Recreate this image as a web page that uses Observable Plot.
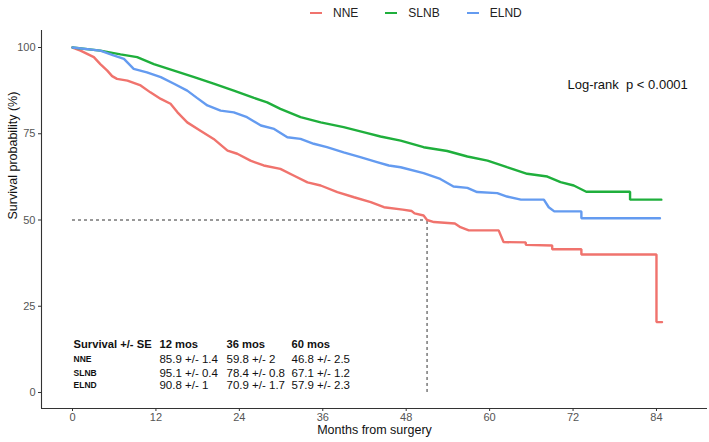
<!DOCTYPE html>
<html>
<head>
<meta charset="utf-8">
<script src="https://cdn.jsdelivr.net/npm/d3@7"></script>
<script src="https://cdn.jsdelivr.net/npm/@observablehq/plot@0.6"></script>
<style>
  html, body { margin: 0; padding: 0; background: #fff; }
  body { width: 709px; font-family: "Liberation Sans", Arial, sans-serif; }
  #legend { position: relative; height: 28px; }
  #legend .items { position: absolute; left: 310px; top: 0; height: 26px; display: flex; align-items: center; font-size: 12px; color: #222; }
  #legend .sw { width: 12px; height: 2px; margin-right: 11px; }
  #legend .lab { margin-right: 27px; }
  #chart svg { display: block; }
</style>
</head>
<body>
<div id="legend"><div class="items"></div></div>
<div id="chart"></div>
<script>
// ---- data ----
const groups = ["NNE", "SLNB", "ELND"];
const colors = ["#F0736D", "#1FAF3C", "#649BF0"];

const nneMonths = [0, 1.15, 3.07, 4.0, 5.0, 5.7, 6.4, 7.9, 9.8, 11.2, 12.7, 14.1, 15.1, 16.5, 18.4, 20.3, 22.3, 23.7, 25.6, 27.5, 29.9, 31.8, 33.8, 35.7, 38.1, 40.5, 42.9, 44.8, 47.5, 48.8, 49.2, 50.5, 51.0, 52.0, 55.0, 55.8, 57.0, 61.3, 62.0, 65.2, 65.2, 69.0, 69.0, 73.2, 73.2, 84.0, 84.0, 84.8];
const nneSurv   = [100, 99.1, 97.2, 95.2, 93.3, 91.7, 90.9, 90.4, 89.0, 87.0, 85.1, 83.7, 81.2, 78.3, 75.9, 73.5, 70.1, 69.2, 67.2, 65.8, 64.8, 62.9, 60.9, 60.0, 58.1, 56.6, 55.2, 53.7, 53.0, 52.6, 51.9, 51.3, 50.0, 49.4, 49.0, 47.9, 47.0, 47.0, 43.6, 43.5, 42.8, 42.6, 41.5, 41.5, 40.0, 40.0, 20.4, 20.4];

const slnbMonths = [0, 4.0, 6.9, 9.3, 11.7, 14.6, 17.5, 20.3, 23.2, 26.1, 28.0, 29.9, 32.8, 35.7, 39.0, 42.4, 44.3, 47.2, 50.5, 53.9, 56.8, 59.7, 62.5, 65.4, 68.3, 70.2, 72.1, 73.9, 80.2, 80.2, 84.7];
const slnbSurv   = [100, 99.1, 98.0, 97.2, 95.2, 93.3, 91.4, 89.5, 87.5, 85.4, 84.1, 82.2, 79.8, 78.3, 76.9, 75.2, 74.2, 73.0, 71.1, 70.0, 68.4, 67.2, 65.3, 63.4, 62.6, 61.0, 60.0, 58.2, 58.2, 55.9, 55.9];

const elndMonths = [0, 4.0, 5.9, 7.4, 8.8, 10.7, 12.7, 14.6, 16.5, 17.9, 19.4, 21.3, 23.2, 25.1, 27.1, 29.0, 30.9, 32.8, 34.7, 36.6, 39.0, 41.4, 43.8, 45.5, 47.2, 50.5, 52.9, 54.8, 56.8, 58.2, 61.1, 62.5, 64.5, 67.8, 68.5, 69.3, 73.2, 73.2, 84.5];
const elndSurv   = [100, 99.1, 97.7, 96.7, 93.8, 92.8, 91.4, 89.5, 87.5, 85.4, 83.2, 81.7, 81.2, 79.8, 77.4, 76.4, 74.0, 73.5, 72.1, 71.1, 69.6, 68.2, 66.8, 65.8, 65.3, 63.6, 61.9, 59.7, 59.3, 58.1, 57.8, 56.8, 55.9, 55.9, 53.7, 52.5, 52.5, 50.5, 50.5];

const xTicks = [0, 12, 24, 36, 48, 60, 72, 84];
const yTicks = [0, 25, 50, 75, 100];

const tableHeader = ["Survival +/- SE", "12 mos", "36 mos", "60 mos"];
const nneRow  = ["85.9 +/- 1.4", "59.8 +/- 2", "46.8 +/- 2.5"];
const slnbRow = ["95.1 +/- 0.4", "78.4 +/- 0.8", "67.1 +/- 1.2"];
const elndRow = ["90.8 +/- 1", "70.9 +/- 1.7", "57.9 +/- 2.3"];

const logRankText = "Log-rank \u00A0p < 0.0001";
const xTitle = "Months from surgery";
const yTitle = "Survival probability (%)";

// ---- build tables ----
const series = [[nneMonths, nneSurv], [slnbMonths, slnbSurv], [elndMonths, elndSurv]];
const curves = series.flatMap(([ms, ss], gi) => ms.map((m, i) => ({group: groups[gi], month: m, surv: ss[i]})));
const nne = curves.filter(d => d.group === "NNE");
const median = nne.find(d => d.surv <= 50).month;

const rowsText = [nneRow, slnbRow, elndRow];

// layout (data units)
const xDomain = [-4.46, 91.34];
const yDomain = [-4.64, 104.93];
const colX = [0.15, 12.5, 22.15, 31.5];
const headY = 13.9;
const rowY = [9.7, 5.7, 2.0];

const cells = rowsText.flatMap((row, r) => row.map((t, c) => ({t, x: colX[c + 1], y: rowY[r]})));

// legend
const items = document.querySelector("#legend .items");
groups.forEach((g, i) => {
  const sw = document.createElement("span"); sw.className = "sw"; sw.style.background = colors[i];
  const lab = document.createElement("span"); lab.className = "lab"; lab.textContent = g;
  items.appendChild(sw); items.appendChild(lab);
});

const font = "Liberation Sans, Arial, sans-serif";

const chart = Plot.plot({
  width: 709,
  height: 414,
  marginTop: 2,
  marginBottom: 34,
  marginLeft: 41,
  marginRight: 2,
  style: {fontFamily: font, background: "#fff", overflow: "visible"},
  x: {domain: xDomain},
  y: {domain: yDomain},
  color: {domain: groups, range: colors},
  marks: [
    Plot.ruleX([xDomain[0]], {stroke: "#333", strokeWidth: 1.1}),
    Plot.ruleY([yDomain[0]], {stroke: "#333", strokeWidth: 1.1}),
    Plot.axisX(xTicks, {tickSize: 3, tickPadding: 2, fontSize: 11, stroke: "#333", fill: "#555", label: null}),
    Plot.axisY(yTicks, {tickSize: 3, tickPadding: 3, fontSize: 11, stroke: "#333", fill: "#555", label: null}),
    Plot.text([xTitle], {frameAnchor: "bottom", dy: 25, fontSize: 12.5, fill: "#111"}),
    Plot.text([yTitle], {frameAnchor: "left", dx: -29, rotate: -90, fontSize: 12.5, fill: "#111"}),
    Plot.ruleY([50], {x1: 0, x2: median, stroke: "#333", strokeWidth: 1, strokeDasharray: "3,3"}),
    Plot.ruleX([median], {y1: 0, y2: 50, stroke: "#333", strokeWidth: 1, strokeDasharray: "3,3"}),
    Plot.line(curves, {x: "month", y: "surv", z: "group", stroke: "group", strokeWidth: 2.4, strokeLinejoin: "miter"}),
    Plot.text(tableHeader, {x: (d, i) => colX[i], y: headY, text: d => d, textAnchor: "start", fontWeight: "bold", fontSize: 11.2, fill: "#111"}),
    Plot.text(groups, {x: colX[0], y: (d, i) => rowY[i], text: d => d, textAnchor: "start", fontWeight: "bold", fontSize: 8.5, fill: "#111"}),
    Plot.text(cells, {x: "x", y: "y", text: "t", textAnchor: "start", fontSize: 11.5, fill: "#111"}),
    Plot.text([logRankText], {x: 71.2, y: 89.3, textAnchor: "start", fontSize: 13, fill: "#111"})
  ]
});
document.getElementById("chart").appendChild(chart);
</script>
</body>
</html>
